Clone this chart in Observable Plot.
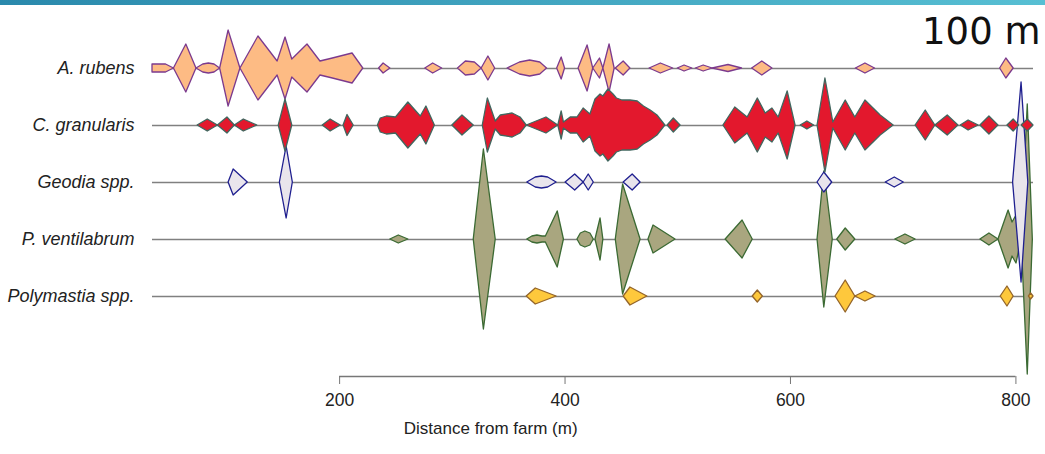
<!DOCTYPE html>
<html><head><meta charset="utf-8">
<script src="https://cdn.jsdelivr.net/npm/d3@7"></script>
<script src="https://cdn.jsdelivr.net/npm/@observablehq/plot@0.6"></script>
<style>
body{margin:0;background:#fff;}
#wrap{position:relative;width:1045px;height:454px;overflow:hidden;background:#fff;}
#bar{position:absolute;left:0;top:0;width:1045px;height:5px;background:linear-gradient(to right,#2a89ac,#57bfd3);z-index:2}
</style></head><body><div id="wrap"><div id="bar"></div></div>
<script>
// Species (rows, top to bottom)
const species = ["A. rubens", "C. granularis", "Geodia spp.", "P. ventilabrum", "Polymastia spp."];
const fills   = ["#FDBB84", "#E3182D", "#E9E5EC", "#A9A67F", "#FEC83C"];
const strokes = ["#7b3a8e", "#41675f", "#1f1f8f", "#3b6a33", "#94652a"];
const distTicks = [200, 400, 600, 800];

// [distance from farm (m), kite half-width / relative abundance]; 0 closes a kite
const aRubens = [
  [34,4],[46,4],[53,0],[64,24],[73,0],[79,4],[84,5],[89,4],[94,0],[101.5,38],[112,0],
  [128,32],[145,7],[152,31],[158,9],[171.5,24],[183,7],[194,10],[201,12],[211.5,15],[221,0],
  [235,0],[239,5],[245,0],[276,0],[283,5],[291,0],
  [305,0],[312,7],[320,6],[326,0],[332,12],[338,0],
  [349,0],[360,6],[369,8],[378,6],[384,0],[393,0],[397,11],[400,0],
  [412,0],[420,23],[425,0],[431,10],[434,0],[439.5,24],[444,0],[445,0],[452,7],[458,0],
  [475,0],[485,5],[496,0],[500,0],[506,3],[513,0],[516,0],[523,3],[531,0],[545,3.5],[557,0],
  [566,0],[575,7],[584,0],[658,0],[666.5,5],[675,0],[786,0],[791.5,10],[798,0]
];
const cGranularis = [
  [74,0],[83,6],[92,0],[100.5,8],[107,0],[115,6],[127,0],
  [146,0],[152,26],[158,0],[185,0],[192,6],[201,0],[203.5,0],[207,10.5],[212.5,0],
  [234,0],[236.5,7],[242,9],[250,8],[261,23],[272,9],[277,19],[284.5,0],
  [300,0],[309,10],[319,0],
  [327,0],[331.5,27],[338.5,4],[343,10],[353.5,12],[360.5,8],[366,0],[383.5,8],[394,0],
  [397,14],[399,3],[405,8],[411,8],[416.5,17],[422.5,11],[427,26],[431.5,31],[434,29],[438.5,36],
  [443,31],[446,27],[451,25],[458,25],[464.5,24],[470,19],[476,15],[482,10],[489,0],[491,0],[496.5,7],[502.5,0],
  [540.5,0],[551,18],[562,8],[571,27],[578,12],[584,17],[589.5,8],[597.5,34],[604.5,0],
  [609,0],[615,4],[621,0],
  [624,0],[631,47],[638,3],[649,25],[657.5,8],[666.5,25],[680,10],[691.5,0],
  [711,0],[720,15],[728.5,0],[739.5,10],[749,0],[751,0],[758,5],[767,0],
  [768.5,0],[776.5,9],[784.5,0],[792.5,0],[798,6],[803,0],[805,0],[810.5,6],[815.6,0]
];
const geodia = [
  [101.5,0],[106,13],[118.5,0],[147,0],[153,36],[158.5,0],
  [366.5,0],[374,5],[379.5,6],[385,5],[392.5,0],
  [400.5,0],[409,8],[416.5,0],[421,8],[425.5,0],[452,0],[460,8],[467,0],
  [624,0],[630,10],[637,0],[684.5,0],[692.5,5],[700.5,0],[797.5,0],[805,100],[811,0]
];
const pVentilabrum = [
  [245,0],[252.5,4],[261,0],[319,0],[328,90],[338.5,0],
  [366.5,0],[371,3],[375.5,4],[380,3],[383,3],[393.5,28],[399,0],
  [411,0],[414,6],[418,8],[422.5,6],[425.5,0],[427,0],[431.5,21],[434,0],
  [445,0],[451.5,55],[467,0],[474,0],[478.5,14],[498,0],
  [542.5,0],[557.5,19],[566.5,0],[624,0],[630,68],[637.5,0],
  [641.5,0],[649,11],[657.5,0],[693,0],[702,5],[711,0],
  [768.5,0],[776.5,6],[784.5,0],[793.5,29],[797,17],[800.5,24],[805,0],[810.5,135],[815,0]
];
const polymastia = [
  [366,0],[374,8],[392.5,0],[452,0],[458,9],[473,0],
  [566.5,0],[571,6],[575.5,0],[640,0],[649,16],[657.5,0],[666.5,5],[675.5,0],
  [786.5,0],[792.5,10],[798,0],[811.5,0],[813.5,3],[815.6,0]
];
const seriesData = [aRubens, cGranularis, geodia, pVentilabrum, polymastia];

const rowGap = 57;        // vertical spacing between rows (same units as half-width)
const yTop = -68, yBottom = 308;

function kites(points, row) {
  const out = [];
  let cur = [], id = 0;
  const flush = () => {
    if (cur.length > 1 && cur.some(p => p[1] > 0)) {
      cur.forEach(([d, a]) => out.push({d, a, base: row * rowGap, kite: row + "-" + id}));
      id++;
    }
  };
  points.forEach((p) => {
    cur.push(p);
    if (p[1] === 0 && cur.length > 1) { flush(); cur = [p]; }
  });
  flush();
  return out;
}

const drawOrder = [3, 2, 4, 0, 1];
const kiteMarks = drawOrder.map(i => Plot.area(kites(seriesData[i], i), {
  x1: "d", y1: r => r.base - r.a, y2: r => r.base + r.a, z: "kite",
  fill: fills[i], stroke: strokes[i], strokeWidth: 1.3, strokeLinejoin: "round"
}));

const chart = Plot.plot({
  width: 1045, height: 454,
  marginLeft: 152, marginRight: 12, marginTop: 0, marginBottom: 78,
  x: {domain: [34, 815.6]},
  y: {domain: [yTop, yBottom], reverse: true, axis: null},
  style: {fontFamily: "'Liberation Sans', Arial, sans-serif", background: "#fff", color: "#222"},
  marks: [
    Plot.ruleY(species.map((s, i) => i * rowGap), {stroke: "#808080", strokeWidth: 1.6}),
    ...kiteMarks,
    Plot.text(species, {frameAnchor: "left", y: (d, i) => i * rowGap, dx: -18, textAnchor: "end",
      fontStyle: "italic", fontSize: 18, fill: "#222"}),
    Plot.ruleY([yBottom], {x1: distTicks[0], x2: distTicks[distTicks.length - 1], stroke: "#777", strokeWidth: 1.3}),
    Plot.axisX({ticks: distTicks, tickSize: 8, tickPadding: 9, fontSize: 17.5, stroke: "#777", label: null, tickFormat: d => String(d)}),
    Plot.text(["Distance from farm (m)"], {frameAnchor: "bottom", x: 334, dy: 57, fontSize: 17, fill: "#222"}),
    Plot.text(["100 m"], {frameAnchor: "top-right", dx: 7, dy: 17, lineAnchor: "top", textAnchor: "end",
      fontSize: 37, fontFamily: "'DejaVu Sans', sans-serif", fill: "#111"})
  ]
});
document.getElementById("wrap").appendChild(chart);
</script>
</body></html>
